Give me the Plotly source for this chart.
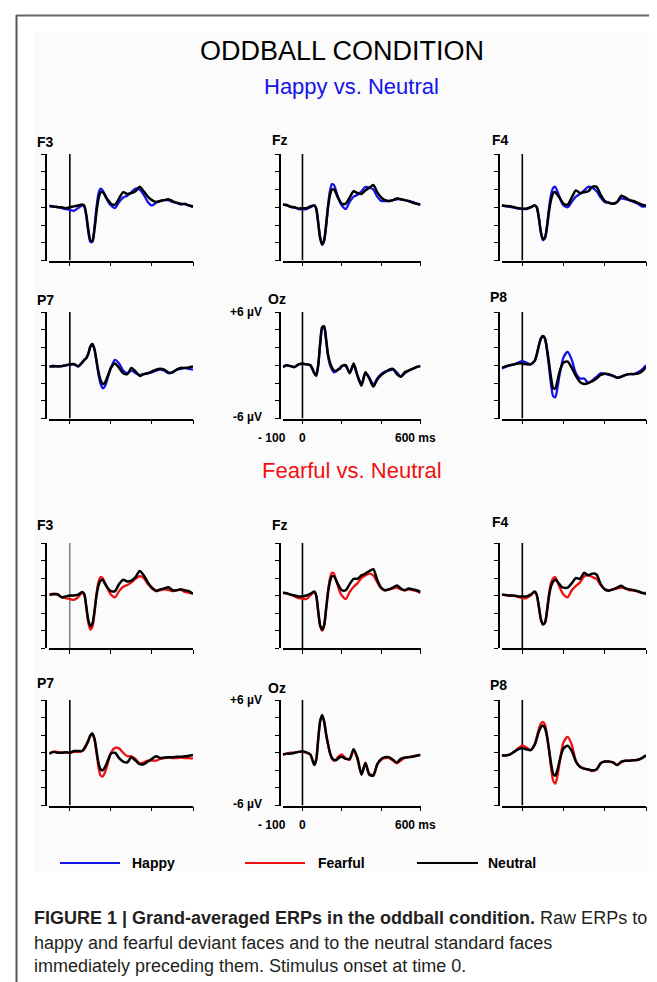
import plotly.graph_objects as go

# ---------------- data ----------------
T_MS = [-100, -80, -60, -40, -20, 0, 20, 40, 60,
        70, 80, 90, 100, 110, 120, 130, 140, 150, 160, 170, 180, 190, 200,
        220, 240, 260, 280, 300, 320, 340, 360, 380, 400, 420, 440, 460, 480,
        500, 520, 540, 560, 580, 600]

X_RANGE_MS = [-100, 600]
X_TICKS_MS = [0, 200, 400, 600]
Y_RANGE_UV = [-6, 6]
Y_TICKS_UV = [-6, -4, -2, 0, 2, 4, 6]
ONSET_MS = 0

ELECTRODES = ["F3", "Fz", "F4", "P7", "Oz", "P8"]

# Happy vs. Neutral (µV)
HAPPY_F3 = [0.15, 0.05, 0.05, -0.1, -0.2, -0.3, -0.4, -0.1, 0.2,
            0.1, -1.0, -2.8, -3.9, -3.9, -2.3, 0.0, 1.6, 2.1, 1.9, 1.4, 0.9, 0.5, 0.2,
            -0.1, 0.6, 1.1, 1.3, 1.7, 2.1, 2.0, 1.4, 0.6, 0.2, 0.5, 0.7, 0.8, 0.8, 0.6, 0.5, 0.3, 0.4, 0.2, 0.0]
NEUTRAL_H_F3 = [0.15, 0.1, 0.0, 0.0, -0.1, 0.0, 0.1, 0.2, 0.3,
                0.2, -0.8, -2.5, -3.7, -3.8, -2.5, -0.5, 1.0, 1.7, 1.7, 1.4, 1.0, 0.7, 0.4,
                0.3, 1.0, 1.7, 1.5, 1.6, 1.8, 2.3, 1.8, 1.2, 0.8, 0.6, 0.7, 0.8, 0.9, 0.7, 0.5, 0.4, 0.35, 0.2, 0.1]
HAPPY_FZ = [0.3, 0.2, 0.05, -0.05, -0.2, -0.25, -0.2, 0.0, 0.2,
            -0.1, -1.7, -3.4, -4.2, -3.8, -2.2, 0.2, 1.9, 2.6, 2.5, 1.9, 1.2, 0.6, 0.2,
            -0.2, 0.6, 1.2, 1.4, 1.8, 2.3, 2.2, 2.0, 1.2, 0.7, 0.7, 0.7, 0.8, 0.9, 0.9, 0.8, 0.7, 0.6, 0.4, 0.3]
NEUTRAL_H_FZ = [0.3, 0.25, 0.05, 0.0, -0.15, -0.1, -0.1, 0.1, 0.2,
                -0.2, -1.8, -3.5, -4.2, -3.7, -2.0, 0.0, 1.4, 2.0, 2.0, 1.6, 1.1, 0.7, 0.4,
                0.4, 1.1, 1.8, 1.6, 1.5, 1.9, 2.2, 2.5, 1.7, 1.1, 0.8, 0.7, 0.8, 1.0, 0.9, 0.8, 0.7, 0.5, 0.4, 0.3]
HAPPY_F4 = [0.2, 0.1, 0.05, -0.05, -0.15, -0.2, -0.2, 0.0, 0.2,
            0.0, -1.1, -2.8, -3.7, -3.5, -2.0, 0.0, 1.5, 2.2, 2.3, 1.8, 1.2, 0.6, 0.2,
            0.0, 0.6, 1.2, 1.5, 1.9, 2.3, 2.2, 1.8, 1.1, 0.6, 0.5, 0.4, 0.6, 1.0, 0.9, 0.8, 0.6, 0.4, 0.1, 0.1]
NEUTRAL_H_F4 = [0.2, 0.15, 0.1, 0.0, -0.1, -0.15, -0.15, 0.0, 0.2,
                0.0, -1.2, -2.8, -3.6, -3.4, -2.2, -0.4, 0.9, 1.6, 1.7, 1.4, 1.1, 0.7, 0.4,
                0.3, 1.1, 1.9, 1.6, 1.7, 1.8, 2.3, 2.3, 1.4, 0.7, 0.5, 0.4, 0.6, 1.3, 1.1, 0.8, 0.7, 0.5, 0.3, 0.2]
HAPPY_P7 = [-0.15, -0.05, -0.15, -0.1, 0.0, 0.05, 0.1, -0.15, 0.3,
            0.6, 0.8, 1.3, 2.1, 2.4, 1.8, 0.4, -1.1, -2.1, -2.6, -2.4, -1.8, -1.0, -0.3,
            0.6, 0.2, -0.6, -0.9, -0.6, -0.9, -1.1, -1.0, -0.9, -0.8, -0.6, -0.5, -0.6, -0.9, -0.8, -0.5, -0.4, -0.3, -0.4, -0.5]
NEUTRAL_H_P7 = [-0.15, -0.15, -0.1, -0.1, 0.0, 0.1, 0.15, -0.1, 0.3,
                0.6, 0.8, 1.3, 2.1, 2.4, 1.8, 0.5, -0.8, -1.7, -2.1, -2.0, -1.5, -0.9, -0.3,
                0.2, -0.3, -0.9, -1.0, -0.3, -0.7, -1.2, -1.0, -0.9, -0.7, -0.5, -0.4, -0.5, -0.8, -0.8, -0.5, -0.3, -0.3, -0.25, -0.15]
HAPPY_OZ = [-0.2, 0.0, -0.1, -0.2, 0.1, 0.15, 0.1, 0.0, -0.8,
            -1.1, 0.0, 2.4, 4.1, 4.3, 2.8, 1.0, 0.0, -0.5, -0.8, -0.7, -0.5, -0.3, -0.1,
            -0.1, -0.8, 0.0, -1.2, -2.1, -0.9, -1.4, -2.2, -1.5, -1.0, -0.7, -0.6, -0.5, -0.8, -1.3, -0.9, -0.6, -0.4, -0.2, -0.1]
NEUTRAL_H_OZ = [-0.2, 0.0, -0.1, -0.2, 0.1, 0.2, 0.1, 0.0, -0.9,
                -1.2, 0.0, 2.5, 4.3, 4.4, 3.0, 1.2, 0.3, -0.25, -0.6, -0.65, -0.5, -0.4, -0.1,
                0.0, -0.9, 0.2, -1.2, -2.3, -0.8, -1.5, -2.4, -1.6, -1.1, -0.8, -0.5, -0.4, -1.0, -1.3, -0.8, -0.6, -0.4, -0.2, -0.1]
HAPPY_P8 = [-0.35, -0.2, 0.0, 0.1, 0.3, 0.45, 0.3, 0.1, 0.5,
            1.2, 2.2, 3.0, 3.3, 3.0, 1.6, -0.3, -2.3, -3.5, -3.6, -2.6, -1.2, 0.0, 0.9,
            1.5, 0.6, -0.9, -1.5, -1.5, -2.0, -1.7, -1.3, -0.9, -0.95, -1.1, -1.2, -1.4, -1.3, -1.1, -1.0, -1.0, -0.8, -0.5, 0.0]
NEUTRAL_H_P8 = [-0.3, -0.1, 0.0, 0.1, 0.2, 0.2, 0.1, 0.1, 0.5,
                1.2, 2.2, 3.0, 3.3, 3.0, 1.8, 0.2, -1.5, -2.6, -2.6, -1.8, -0.8, -0.1, 0.3,
                0.4, -0.3, -1.2, -1.9, -2.1, -2.0, -1.8, -1.5, -1.1, -0.95, -1.0, -1.2, -1.4, -1.3, -1.1, -1.0, -1.0, -0.95, -0.7, -0.2]

# Fearful vs. Neutral (µV)
FEARFUL_F3 = [0.1, 0.2, 0.1, -0.2, -0.3, -0.4, -0.5, -0.2, 0.3,
              0.1, -1.4, -3.1, -3.9, -3.6, -2.0, 0.2, 1.6, 2.1, 2.0, 1.5, 1.0, 0.5, 0.1,
              -0.2, 0.5, 1.0, 1.2, 1.5, 1.9, 2.2, 2.0, 1.3, 0.8, 0.6, 0.6, 0.7, 0.65, 0.5, 0.6, 0.65, 0.4, 0.3, 0.2]
NEUTRAL_F_F3 = [0.1, 0.15, 0.15, -0.2, -0.1, 0.0, 0.0, 0.1, 0.4,
                0.2, -1.2, -2.8, -3.5, -3.2, -1.8, 0.0, 1.2, 1.7, 1.8, 1.4, 1.0, 0.7, 0.5,
                0.5, 1.3, 1.8, 1.6, 1.7, 2.1, 2.8, 2.3, 1.5, 0.9, 0.5, 0.7, 0.8, 0.95, 0.6, 0.6, 0.7, 0.6, 0.5, 0.2]
FEARFUL_FZ = [0.3, 0.2, 0.1, -0.1, -0.3, -0.35, -0.4, 0.0, 0.4,
              -0.1, -1.9, -3.5, -4.0, -3.5, -1.5, 0.6, 2.0, 2.6, 2.5, 1.8, 1.1, 0.4, 0.0,
              -0.4, 0.4, 1.0, 1.4, 2.0, 2.3, 2.5, 2.3, 1.5, 0.8, 0.6, 0.7, 0.8, 0.9, 0.7, 0.6, 0.7, 0.6, 0.5, 0.3]
NEUTRAL_F_FZ = [0.3, 0.25, 0.1, 0.0, -0.1, -0.1, 0.0, 0.2, 0.45,
                0.0, -1.8, -3.4, -3.9, -3.4, -1.6, 0.3, 1.6, 2.2, 2.2, 1.8, 1.3, 0.9, 0.6,
                0.6, 1.3, 1.9, 1.9, 2.3, 2.5, 2.8, 3.0, 1.8, 0.9, 0.6, 0.7, 0.9, 1.15, 0.8, 0.6, 0.8, 0.7, 0.6, 0.4]
FEARFUL_F4 = [0.1, 0.05, 0.0, -0.05, -0.15, -0.3, -0.3, 0.0, 0.4,
              0.0, -1.3, -2.7, -3.3, -3.1, -1.6, 0.3, 1.5, 2.0, 2.1, 1.6, 1.0, 0.5, 0.1,
              -0.2, 0.6, 1.1, 1.5, 2.2, 2.3, 2.1, 1.9, 1.2, 0.7, 0.6, 0.7, 0.8, 0.9, 0.8, 0.6, 0.6, 0.45, 0.3, 0.3]
NEUTRAL_F_F4 = [0.1, 0.05, 0.0, 0.0, -0.1, -0.1, -0.1, 0.1, 0.45,
                0.1, -1.2, -2.7, -3.3, -3.1, -1.8, 0.0, 1.1, 1.6, 1.8, 1.6, 1.3, 1.0, 0.9,
                0.9, 1.4, 2.0, 1.9, 2.6, 2.3, 2.5, 2.4, 1.3, 0.7, 0.55, 0.7, 0.9, 1.1, 0.8, 0.7, 0.6, 0.5, 0.3, 0.2]
FEARFUL_P7 = [-0.1, 0.1, 0.1, 0.0, 0.05, 0.0, 0.1, 0.1, 0.2,
              0.4, 0.8, 1.3, 1.9, 2.1, 1.5, 0.0, -1.7, -2.6, -2.7, -2.3, -1.6, -0.8, 0.0,
              0.55, 0.5, 0.0, -0.4, -0.4, -0.7, -1.2, -1.1, -0.9, -0.9, -0.9, -0.7, -0.6, -0.55, -0.6, -0.6, -0.55, -0.6, -0.6, -0.65]
NEUTRAL_F_P7 = [-0.1, 0.1, 0.0, 0.0, 0.05, 0.0, 0.2, 0.2, 0.2,
                0.5, 0.9, 1.4, 2.0, 2.2, 1.6, 0.2, -1.2, -1.9, -2.0, -1.7, -1.2, -0.6, -0.1,
                0.0, -0.6, -1.0, -1.1, -0.5, -0.9, -1.3, -1.3, -1.0, -0.7, -0.4, -0.6, -0.55, -0.5, -0.5, -0.45, -0.45, -0.4, -0.35, -0.25]
FEARFUL_OZ = [-0.2, -0.1, 0.0, 0.0, 0.1, 0.1, 0.0, -0.2, -1.3,
              -0.7, 1.6, 3.6, 4.2, 3.5, 2.0, 0.9, -0.1, -0.7, -0.9, -0.8, -0.5, -0.3, -0.2,
              -0.6, -0.8, 0.3, -0.8, -2.4, -1.1, -2.4, -2.5, -1.4, -0.8, -0.6, -0.6, -0.9, -1.2, -0.9, -0.6, -0.5, -0.4, -0.3, -0.25]
NEUTRAL_F_OZ = [-0.2, -0.1, -0.1, 0.0, 0.1, 0.15, 0.05, -0.2, -1.4,
                -0.8, 1.5, 3.6, 4.3, 3.6, 2.2, 1.0, 0.0, -0.6, -0.8, -0.85, -0.7, -0.5, -0.45,
                -0.7, -0.7, 0.4, -0.6, -2.5, -1.2, -2.5, -2.6, -1.3, -0.7, -0.5, -0.5, -0.8, -1.1, -0.7, -0.55, -0.5, -0.45, -0.35, -0.25]
FEARFUL_P8 = [-0.3, -0.3, -0.2, 0.1, 0.5, 0.85, 0.6, 0.3, 1.0,
              1.8, 2.7, 3.3, 3.5, 3.2, 2.0, 0.2, -1.8, -3.2, -3.5, -2.7, -1.3, 0.2, 1.2,
              1.8, 0.9, -0.9, -1.6, -1.8, -1.9, -2.1, -1.9, -1.2, -1.0, -1.0, -1.1, -1.4, -1.1, -0.9, -0.9, -0.85, -0.8, -0.6, -0.3]
NEUTRAL_F_P8 = [-0.3, -0.3, -0.2, 0.1, 0.4, 0.5, 0.4, 0.3, 0.9,
                1.6, 2.4, 2.9, 3.1, 2.8, 1.8, 0.3, -1.3, -2.4, -2.6, -2.0, -1.0, -0.1, 0.5,
                0.8, 0.2, -1.0, -1.6, -1.8, -1.9, -2.0, -1.9, -1.2, -1.0, -1.0, -1.1, -1.4, -1.0, -0.9, -0.9, -0.85, -0.8, -0.6, -0.3]

LEGEND_LABELS = ["Happy", "Fearful", "Neutral"]

# ---------------- layout / style ----------------
W, H = 657, 982
FONT = "Liberation Sans, Arial, Helvetica, sans-serif"
BLUE = "#1414e6"
RED = "#ee1111"
BLACK = "#000000"

# columns: (y-axis line x, x-domain left, x-domain right) in px
COLS = [(38.0, 41.3, 185.0), (271.7, 274.8, 412.5), (491.0, 493.7, 638.0)]
# rows: (top px for +6, bottom px for -6)
ROWS = [(146.0, 252.5), (304.0, 410.5), (535.0, 640.0), (692.0, 797.5)]

LABEL_POS = [
    [(27, 134), (262, 132), (482, 132), (27, 292), (258, 291), (480, 289)],
    [(27, 517), (262, 517), (482, 514), (27, 675), (258, 680), (480, 677)],
]


def px_x(v):
    return v / W


def px_y(v):
    return 1 - v / H


sections = [
    ([HAPPY_F3, HAPPY_FZ, HAPPY_F4, HAPPY_P7, HAPPY_OZ, HAPPY_P8],
     [NEUTRAL_H_F3, NEUTRAL_H_FZ, NEUTRAL_H_F4, NEUTRAL_H_P7, NEUTRAL_H_OZ, NEUTRAL_H_P8],
     BLUE),
    ([FEARFUL_F3, FEARFUL_FZ, FEARFUL_F4, FEARFUL_P7, FEARFUL_OZ, FEARFUL_P8],
     [NEUTRAL_F_F3, NEUTRAL_F_FZ, NEUTRAL_F_F4, NEUTRAL_F_P7, NEUTRAL_F_OZ, NEUTRAL_F_P8],
     RED),
]

fig = go.Figure()
layout_axes = {}
annotations = []
shapes = []

k = 0
for s, (emo_list, neu_list, color) in enumerate(sections):
    for e, name in enumerate(ELECTRODES):
        k += 1
        col = COLS[e % 3]
        row = ROWS[s * 2 + e // 3]
        xn = "x" if k == 1 else f"x{k}"
        yn = "y" if k == 1 else f"y{k}"
        xkey = "xaxis" if k == 1 else f"xaxis{k}"
        ykey = "yaxis" if k == 1 else f"yaxis{k}"

        onset_w, onset_c = (1.0, "#444444") if (s == 1 and e == 0) else (1.6, BLACK)
        fig.add_trace(go.Scatter(x=[ONSET_MS, ONSET_MS], y=Y_RANGE_UV, mode="lines",
                                 line=dict(color=onset_c, width=onset_w),
                                 xaxis=xn, yaxis=yn, showlegend=False, hoverinfo="skip"))
        fig.add_trace(go.Scatter(x=T_MS, y=emo_list[e], mode="lines",
                                 line=dict(color=color, width=2.3, shape="spline", smoothing=0.7),
                                 xaxis=xn, yaxis=yn, showlegend=False))
        fig.add_trace(go.Scatter(x=T_MS, y=neu_list[e], mode="lines",
                                 line=dict(color=BLACK, width=2.5, shape="spline", smoothing=0.7),
                                 xaxis=xn, yaxis=yn, showlegend=False))

        layout_axes[xkey] = dict(domain=[px_x(col[1]), px_x(col[2])], anchor=yn,
                                 range=X_RANGE_MS, showline=True, linecolor=BLACK, linewidth=1.6,
                                 ticks="outside", ticklen=4, tickwidth=1.4, tickcolor=BLACK,
                                 tickvals=X_TICKS_MS, showticklabels=False,
                                 showgrid=False, zeroline=False, fixedrange=True)
        layout_axes[ykey] = dict(domain=[px_y(row[1]), px_y(row[0])], anchor="free",
                                 position=px_x(col[0]),
                                 range=Y_RANGE_UV, showline=True, linecolor=BLACK, linewidth=1.6,
                                 ticks="outside", ticklen=4, tickwidth=1.4, tickcolor=BLACK,
                                 tickvals=Y_TICKS_UV, showticklabels=False,
                                 showgrid=False, zeroline=False, fixedrange=True)

        lx, ly = LABEL_POS[s][e]
        annotations.append(dict(text=f"<b>{name}</b>", x=px_x(lx), y=px_y(ly), xref="paper", yref="paper",
                                xanchor="left", yanchor="middle", showarrow=False,
                                font=dict(family=FONT, size=14, color=BLACK)))

        if name == "Oz":
            small = dict(family=FONT, size=12, color=BLACK)
            annotations.append(dict(text=f"<b>+{Y_RANGE_UV[1]} µV</b>", x=px_x(256), y=px_y(row[0]),
                                    xref="paper", yref="paper", xanchor="right", yanchor="middle",
                                    showarrow=False, font=small))
            annotations.append(dict(text=f"<b>{Y_RANGE_UV[0]} µV</b>", x=px_x(256), y=px_y(row[1] - 2),
                                    xref="paper", yref="paper", xanchor="right", yanchor="middle",
                                    showarrow=False, font=small))
            ylab = px_y(row[1] + 19.5)
            annotations.append(dict(text=f"<b>- {abs(X_RANGE_MS[0])}</b>", x=px_x(264), y=ylab,
                                    xref="paper", yref="paper", xanchor="center", yanchor="middle",
                                    showarrow=False, font=small))
            annotations.append(dict(text=f"<b>{ONSET_MS}</b>", x=px_x(294), y=ylab,
                                    xref="paper", yref="paper", xanchor="center", yanchor="middle",
                                    showarrow=False, font=small))
            annotations.append(dict(text=f"<b>{X_RANGE_MS[1]} ms</b>", x=px_x(407), y=ylab,
                                    xref="paper", yref="paper", xanchor="center", yanchor="middle",
                                    showarrow=False, font=small))

# titles
annotations.append(dict(text="ODDBALL CONDITION", x=px_x(334), y=px_y(43), xref="paper", yref="paper",
                        xanchor="center", yanchor="middle", showarrow=False,
                        font=dict(family=FONT, size=27, color=BLACK)))
annotations.append(dict(text="Happy vs. Neutral", x=px_x(343), y=px_y(78), xref="paper", yref="paper",
                        xanchor="center", yanchor="middle", showarrow=False,
                        font=dict(family=FONT, size=22, color=BLUE)))
annotations.append(dict(text="Fearful vs. Neutral", x=px_x(343.5), y=px_y(462), xref="paper", yref="paper",
                        xanchor="center", yanchor="middle", showarrow=False,
                        font=dict(family=FONT, size=22, color=RED)))

# legend (drawn manually)
legend_items = [(52, 112, 122, BLUE), (237, 297, 308, RED), (409, 470, 478, BLACK)]
for (x0, x1, tx, c), lab in zip(legend_items, LEGEND_LABELS):
    shapes.append(dict(type="line", xref="paper", yref="paper", x0=px_x(x0), x1=px_x(x1),
                       y0=px_y(855), y1=px_y(855), line=dict(color=c, width=2)))
    annotations.append(dict(text=f"<b>{lab}</b>", x=px_x(tx), y=px_y(855), xref="paper", yref="paper",
                            xanchor="left", yanchor="middle", showarrow=False,
                            font=dict(family=FONT, size=14, color=BLACK)))

# caption
cap_font = dict(family=FONT, size=18, color="#231f20")
caption_lines = [
    "<b>FIGURE 1 | Grand-averaged ERPs in the oddball condition.</b> Raw ERPs to",
    "happy and fearful deviant faces and to the neutral standard faces",
    "immediately preceding them. Stimulus onset at time 0.",
]
for line, yy in zip(caption_lines, [910, 935, 958]):
    annotations.append(dict(text=line, x=px_x(24), y=px_y(yy), xref="paper", yref="paper",
                            xanchor="left", yanchor="middle", showarrow=False, font=cap_font))

# background panel and frame
shapes.append(dict(type="rect", xref="paper", yref="paper", x0=px_x(26), x1=px_x(642),
                   y0=px_y(863), y1=px_y(25), fillcolor="#fbfbfb", line=dict(width=0), layer="below"))
shapes.append(dict(type="line", xref="paper", yref="paper", x0=px_x(8), x1=1,
                   y0=px_y(7.5), y1=px_y(7.5), line=dict(color="#666666", width=2)))
shapes.append(dict(type="line", xref="paper", yref="paper", x0=px_x(8.5), x1=px_x(8.5),
                   y0=px_y(7), y1=0, line=dict(color="#555555", width=2)))

fig.update_layout(width=W, height=H, margin=dict(l=0, r=0, t=0, b=0),
                  paper_bgcolor="white", plot_bgcolor="rgba(0,0,0,0)",
                  showlegend=False, annotations=annotations, shapes=shapes,
                  font=dict(family=FONT), **layout_axes)

fig.write_html("out.html")
